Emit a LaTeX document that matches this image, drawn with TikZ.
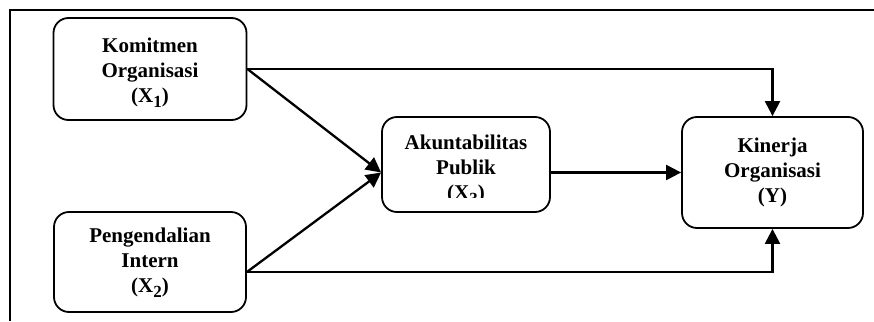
\documentclass[tikz,border=0pt]{standalone}
\usepackage{fontspec}
\setmainfont{Liberation Serif}
\usetikzlibrary{arrows.meta, positioning, calc}

\newcommand{\vsub}[1]{\raisebox{-5pt}{\fontsize{17}{17}\selectfont #1}}

\begin{document}
\begin{tikzpicture}[
    x=1pt, y=-1pt,
    var/.style={draw, line width=1.8pt, rounded corners=15pt, align=center,
        font=\fontsize{21}{25}\selectfont\bfseries, inner sep=0pt},
    label/.style={align=center, font=\fontsize{21}{25}\selectfont\bfseries, inner sep=0pt},
    arrow/.style={-{Triangle[length=15pt, width=15pt]}, line width=2.3pt}
]
\useasboundingbox (0,0) rectangle (874,321);

% frame (top and left edge only)
\draw[line width=1.2pt] (10,321) -- (10,10) -- (874,10);

% variables
\node[var, minimum width=193pt, minimum height=102pt] (X1) at (150,69) {};
\node[label] (X1text) at (150,73) {Komitmen\\Organisasi\\(X\vsub{1})};

\node[var, minimum width=192pt, minimum height=100pt] (X2) at (150,262) {};
\node[label] (X2text) at (150,263) {Pengendalian\\Intern\\(X\vsub{2})};

\node[var, minimum width=168pt, minimum height=95pt] (X3) at (466,164.5) {};
\begin{scope}
    \clip (X3.north west) rectangle ([yshift=15pt]X3.south east);
    \node[label] (X3text) at (466,170) {Akuntabilitas\\Publik\\(X\vsub{3})};
\end{scope}

\node[var, minimum width=181pt, minimum height=111pt] (Y) at (772.5,172.5) {};
\node[label] (Ytext) at (772.5,172) {Kinerja\\Organisasi\\(Y)};

% arrows
\draw[arrow] (X1.east) -| (Y.north);
\draw[arrow] ([yshift=-10pt]X2.east) -| (Y.south);
\draw[arrow] (X1.east) -- (X3.west |- Y.west);
\draw[arrow] ([yshift=-10pt]X2.east) -- (X3.west |- Y.west);
\draw[arrow] (X3.east |- Y.west) -- (Y.west);

\end{tikzpicture}
\end{document}
